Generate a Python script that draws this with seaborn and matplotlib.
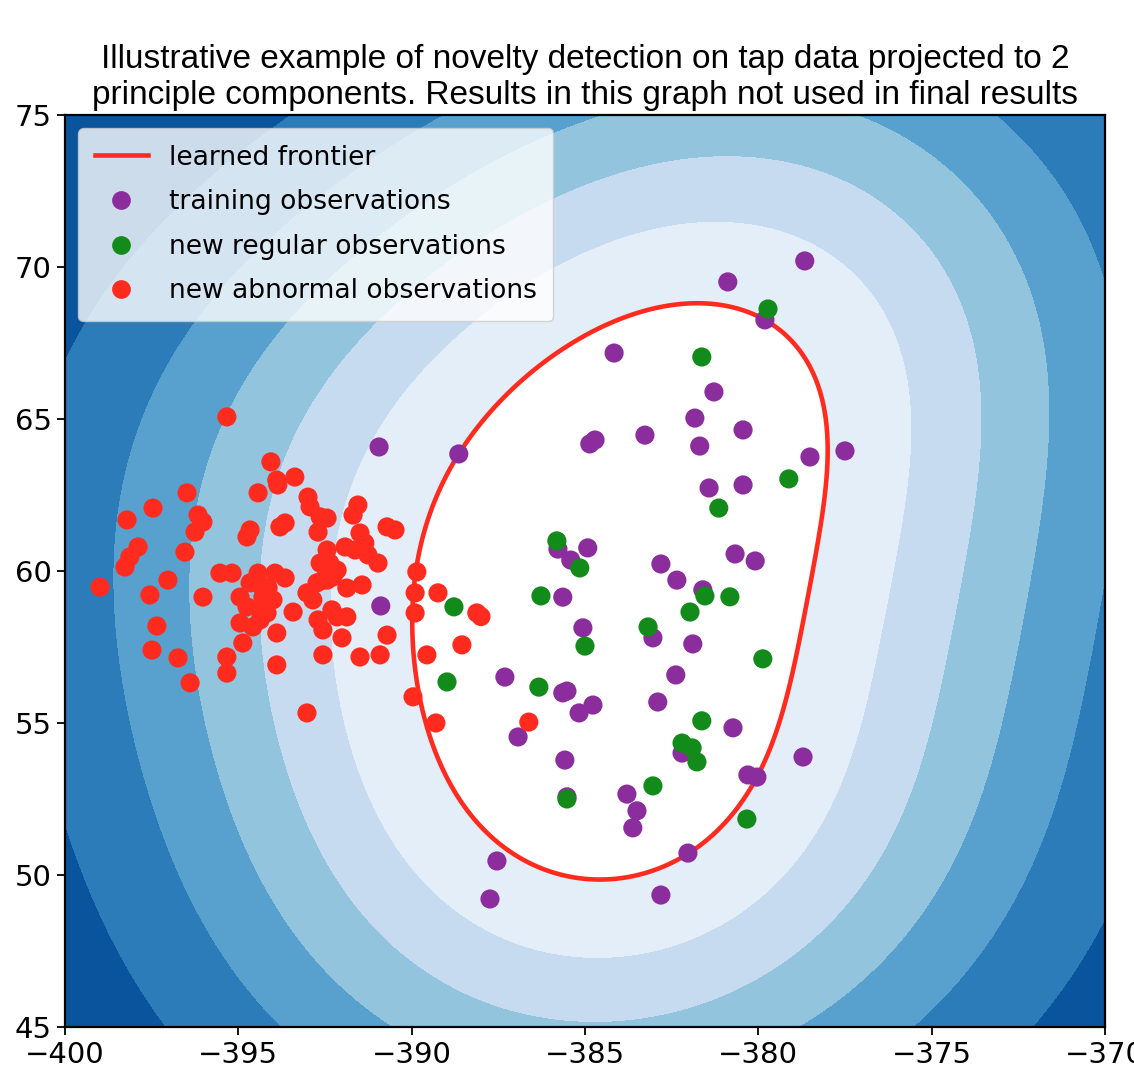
import numpy as np
import pandas as pd
import matplotlib
matplotlib.use("Agg")
import matplotlib.pyplot as plt
from matplotlib.lines import Line2D
import seaborn as sns

# training observations (projected to 2 principal components)
train_x = [-380.88, -378.66, -379.81, -384.16, -381.28, -381.83, -381.69, -383.27, -384.71, -384.86,
           -380.44, -381.42, -380.44, -378.51, -377.50, -390.94, -388.64, -380.67, -380.09, -384.92,
           -385.41, -385.78, -382.81, -382.35, -381.60, -385.64, -390.89, -385.06, -383.04, -381.89,
           -387.31, -385.64, -385.52, -384.77, -385.17, -382.38, -382.90, -380.73, -386.93, -385.58,
           -382.20, -378.71, -380.30, -380.04, -383.79, -385.52, -383.50, -383.62, -382.03, -387.54,
           -387.74, -382.81]
train_y = [69.51, 70.20, 68.26, 67.17, 65.89, 65.03, 64.11, 64.47, 64.31, 64.18,
           64.64, 62.73, 62.83, 63.75, 63.95, 64.08, 63.85, 60.56, 60.33, 60.76,
           60.36, 60.72, 60.23, 59.70, 59.38, 59.14, 58.85, 58.13, 57.80, 57.60,
           56.51, 55.99, 56.05, 55.59, 55.33, 56.58, 55.69, 54.84, 54.54, 53.78,
           54.01, 53.88, 53.29, 53.22, 52.66, 52.57, 52.11, 51.55, 50.72, 50.46,
           49.21, 49.34]

# new regular observations
reg_x = [-379.72, -381.63, -379.12, -381.14, -385.81, -385.15, -386.27, -381.54, -380.82, -388.78,
         -381.97, -383.18, -385.00, -379.87, -386.33, -388.98, -381.63, -382.20, -381.91, -381.77,
         -383.04, -385.52, -380.33]
reg_y = [68.62, 67.04, 63.03, 62.07, 60.99, 60.10, 59.18, 59.18, 59.15, 58.82,
         58.65, 58.16, 57.53, 57.11, 56.18, 56.35, 55.07, 54.34, 54.18, 53.72,
         52.93, 52.50, 51.84]

# new abnormal observations
abn_x = [-395.33, -394.06, -393.37, -393.89, -393.86, -394.43, -396.48, -397.46, -398.21, -396.16,
         -396.02, -396.25, -396.54, -397.89, -398.13, -398.27, -398.99, -397.03, -397.55, -397.35,
         -397.49, -396.74, -396.39, -395.33, -395.33, -396.02, -395.53, -395.18, -394.66, -394.75,
         -393.80, -393.65, -392.99, -392.93, -392.64, -392.44, -392.70, -391.55, -391.69, -390.71,
         -390.48, -391.49, -391.35, -391.92, -391.63, -391.26, -390.97, -392.44, -392.36, -392.64,
         -392.15, -392.56, -392.27, -394.43, -393.94, -393.65, -394.66, -394.37, -394.14, -394.95,
         -394.75, -394.29, -394.00, -394.37, -394.17, -394.95, -394.58, -394.37, -394.87, -393.89,
         -393.89, -393.42, -393.02, -392.85, -392.73, -392.44, -392.30, -392.15, -392.70, -392.56,
         -391.87, -392.01, -391.87, -391.43, -392.56, -391.49, -390.91, -390.71, -389.85, -389.90,
         -389.90, -389.24, -389.56, -388.55, -388.12, -388.00, -389.96, -393.02, -389.30, -386.62]
abn_y = [65.07, 63.59, 63.09, 62.99, 62.83, 62.57, 62.57, 62.07, 61.68, 61.84,
         61.61, 61.28, 60.62, 60.79, 60.46, 60.13, 59.47, 59.70, 59.21, 58.19,
         57.40, 57.14, 56.32, 57.17, 56.64, 59.14, 59.93, 59.93, 61.35, 61.12,
         61.45, 61.58, 62.43, 62.11, 61.78, 61.74, 61.28, 62.17, 61.84, 61.45,
         61.35, 61.25, 60.92, 60.79, 60.69, 60.53, 60.26, 60.69, 60.26, 60.26,
         60.03, 59.70, 59.80, 59.93, 59.93, 59.77, 59.61, 59.54, 59.44, 59.14,
         58.82, 59.14, 59.05, 58.72, 58.62, 58.29, 58.16, 58.39, 57.63, 57.96,
         56.91, 58.65, 59.28, 59.05, 59.61, 59.70, 58.72, 58.49, 58.39, 58.06,
         58.49, 57.80, 59.44, 59.54, 57.24, 57.17, 57.24, 57.89, 59.97, 59.28,
         58.62, 59.28, 57.24, 57.57, 58.62, 58.50, 55.86, 55.33, 55.00, 55.03]

x_range = (-400, -370)
y_range = (45, 75)
nu = 0.22
gamma = 0.009


def rbf(A, B, g):
    d2 = ((A[:, None, :] - B[None, :, :]) ** 2).sum(-1)
    return np.exp(-g * d2)


def fit_one_class_svm(X, nu, g, iters=3000):
    # dual of the one-class SVM, solved with accelerated projected gradient
    n = len(X)
    K = rbf(X, X, g)
    C = 1.0 / (nu * n)
    a = np.full(n, 1.0 / n)
    z = a.copy()
    step = 1.0 / np.linalg.eigvalsh(K).max()
    tk = 1.0
    for _ in range(iters):
        v = z - step * (K @ z)
        lo, hi = v.min() - C - 1, v.max() + 1
        for _ in range(45):
            t = 0.5 * (lo + hi)
            if np.clip(v - t, 0, C).sum() > 1:
                lo = t
            else:
                hi = t
        a_new = np.clip(v - t, 0, C)
        tk1 = 0.5 * (1 + np.sqrt(1 + 4 * tk * tk))
        z = a_new + (tk - 1) / tk1 * (a_new - a)
        a, tk = a_new, tk1
    f = K @ a
    free = (a > 1e-5) & (a < C - 1e-5)
    rho = f[free].mean() if free.any() else f[a > 1e-5].max()
    return a, rho


X_train = np.column_stack([train_x, train_y])
alpha, rho = fit_one_class_svm(X_train, nu, gamma)

xx, yy = np.meshgrid(np.linspace(*x_range, 500), np.linspace(*y_range, 500))
grid = np.column_stack([xx.ravel(), yy.ravel()])
Z = (rbf(grid, X_train, gamma) @ alpha - rho).reshape(xx.shape)

df = pd.concat([
    pd.DataFrame({'x': train_x, 'y': train_y, 'kind': 'training observations'}),
    pd.DataFrame({'x': reg_x, 'y': reg_y, 'kind': 'new regular observations'}),
    pd.DataFrame({'x': abn_x, 'y': abn_y, 'kind': 'new abnormal observations'}),
])

palette = {'training observations': '#8b2d9c',
           'new regular observations': '#138b1b',
           'new abnormal observations': '#ff2b1f'}
frontier_color = '#ff2b1f'
band_colors = plt.cm.Blues(np.linspace(0.86, 0.1, 6))

fig = plt.figure(figsize=(11.34, 10.74), dpi=100)
ax = fig.add_axes([0.0573, 0.0438, 0.9171, 0.8491])

ax.contourf(xx, yy, Z, levels=np.linspace(Z.min(), 0, 7), colors=band_colors)
ax.contour(xx, yy, Z, levels=[0], linewidths=3.3, colors=frontier_color)
ax.contourf(xx, yy, Z, levels=[0, Z.max()], colors='white')

sns.scatterplot(data=df, x='x', y='y', hue='kind', palette=palette, s=190,
                linewidth=0, ax=ax, legend=False, zorder=3)

ax.set_xlim(*x_range)
ax.set_ylim(*y_range)
ax.set_xlabel('')
ax.set_ylabel('')
ax.tick_params(labelsize=21, length=6, width=1.3)
ax.tick_params(axis='x', pad=4)
for sp in ax.spines.values():
    sp.set_linewidth(1.6)

handles = [Line2D([], [], color=frontier_color, lw=3.3)]
labels = ['learned frontier']
for name, col in palette.items():
    handles.append(Line2D([], [], ls='', marker='o', markersize=13.5,
                          markerfacecolor=col, markeredgewidth=0))
    labels.append(name)
ax.legend(handles, labels, loc='upper left', fontsize=19.1, framealpha=0.8,
          labelspacing=0.7, borderpad=0.62)

ax.set_title('Illustrative example of novelty detection on tap data projected to 2\n'
             'principle components. Results in this graph not used in final results',
             fontsize=24, family=['Liberation Sans Narrow', 'Liberation Sans', 'DejaVu Sans'],
             pad=8, linespacing=1.22)

plt.savefig('out.png', dpi=100)
